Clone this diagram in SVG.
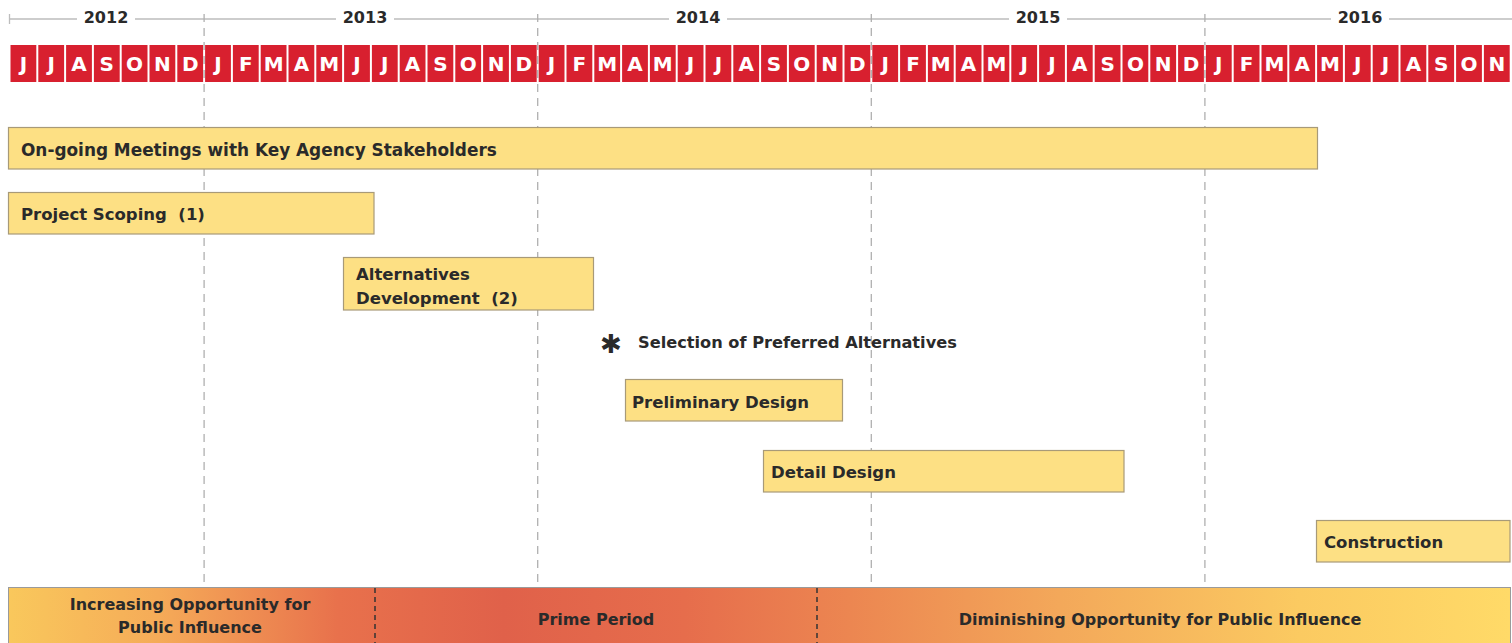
<svg xmlns="http://www.w3.org/2000/svg" width="1512" height="643" viewBox="0 0 1512 643">
<defs>
<style>
.cell{fill:#d8202f}
.m{font-family:"DejaVu Sans","Liberation Sans",sans-serif;font-weight:bold;font-size:20px;fill:#fff;text-anchor:middle}
.yr{font-family:"DejaVu Sans","Liberation Sans",sans-serif;font-weight:bold;font-size:16px;fill:#2a2a2a;text-anchor:middle}
.bar{fill:#fde084;stroke:#a89a78;stroke-width:1.2}
.t{font-family:"DejaVu Sans","Liberation Sans",sans-serif;font-weight:bold;font-size:16.5px;fill:#2a2a2a}
.tc{font-family:"DejaVu Sans","Liberation Sans",sans-serif;font-weight:bold;font-size:16px;fill:#2a2a2a;text-anchor:middle}
.vd{stroke:#b0b0b0;stroke-width:1.3;stroke-dasharray:8 6;fill:none}
.div{stroke:#333;stroke-width:1.5;stroke-dasharray:5 4;fill:none}
</style>
<linearGradient id="band" gradientUnits="userSpaceOnUse" x1="8" y1="0" x2="1510" y2="0">
<stop offset="0" stop-color="#f9c85c"/>
<stop offset="0.1" stop-color="#f5ab58"/>
<stop offset="0.22" stop-color="#e8714c"/>
<stop offset="0.33" stop-color="#e0614a"/>
<stop offset="0.45" stop-color="#e66d4c"/>
<stop offset="0.56" stop-color="#ec8651"/>
<stop offset="0.7" stop-color="#f3a85a"/>
<stop offset="0.86" stop-color="#fbca61"/>
<stop offset="1" stop-color="#ffda68"/>
</linearGradient>
</defs>
<rect x="0" y="0" width="1512" height="643" fill="#fff"/>

<g id="year-axis">
<line x1="9.5" y1="19" x2="1512" y2="19" stroke="#bdbdbd" stroke-width="1.3"/>
<line x1="9.5" y1="14" x2="9.5" y2="24" stroke="#bdbdbd" stroke-width="1.3"/>
<rect x="77" y="8" width="58" height="20" fill="#fff"/>
<rect x="336" y="8" width="58" height="20" fill="#fff"/>
<rect x="669" y="8" width="58" height="20" fill="#fff"/>
<rect x="1009" y="8" width="58" height="20" fill="#fff"/>
<rect x="1331" y="8" width="58" height="20" fill="#fff"/>
<text class="yr" x="106" y="23">2012</text>
<text class="yr" x="365" y="23">2013</text>
<text class="yr" x="698" y="23">2014</text>
<text class="yr" x="1038" y="23">2015</text>
<text class="yr" x="1360" y="23">2016</text>
</g>

<g id="year-dividers">
<line class="vd" x1="204.1" y1="14" x2="204.1" y2="600"/>
<line class="vd" x1="537.7" y1="14" x2="537.7" y2="600"/>
<line class="vd" x1="871.3" y1="14" x2="871.3" y2="600"/>
<line class="vd" x1="1204.9" y1="14" x2="1204.9" y2="600"/>
</g>

<g id="months">
<rect class="cell" x="10.5" y="45" width="25.8" height="37"/>
<rect class="cell" x="38.3" y="45" width="25.8" height="37"/>
<rect class="cell" x="66.1" y="45" width="25.8" height="37"/>
<rect class="cell" x="93.9" y="45" width="25.8" height="37"/>
<rect class="cell" x="121.7" y="45" width="25.8" height="37"/>
<rect class="cell" x="149.5" y="45" width="25.8" height="37"/>
<rect class="cell" x="177.3" y="45" width="25.8" height="37"/>
<rect class="cell" x="205.1" y="45" width="25.8" height="37"/>
<rect class="cell" x="232.9" y="45" width="25.8" height="37"/>
<rect class="cell" x="260.7" y="45" width="25.8" height="37"/>
<rect class="cell" x="288.5" y="45" width="25.8" height="37"/>
<rect class="cell" x="316.3" y="45" width="25.8" height="37"/>
<rect class="cell" x="344.1" y="45" width="25.8" height="37"/>
<rect class="cell" x="371.9" y="45" width="25.8" height="37"/>
<rect class="cell" x="399.7" y="45" width="25.8" height="37"/>
<rect class="cell" x="427.5" y="45" width="25.8" height="37"/>
<rect class="cell" x="455.3" y="45" width="25.8" height="37"/>
<rect class="cell" x="483.1" y="45" width="25.8" height="37"/>
<rect class="cell" x="510.9" y="45" width="25.8" height="37"/>
<rect class="cell" x="538.7" y="45" width="25.8" height="37"/>
<rect class="cell" x="566.5" y="45" width="25.8" height="37"/>
<rect class="cell" x="594.3" y="45" width="25.8" height="37"/>
<rect class="cell" x="622.1" y="45" width="25.8" height="37"/>
<rect class="cell" x="649.9" y="45" width="25.8" height="37"/>
<rect class="cell" x="677.7" y="45" width="25.8" height="37"/>
<rect class="cell" x="705.5" y="45" width="25.8" height="37"/>
<rect class="cell" x="733.3" y="45" width="25.8" height="37"/>
<rect class="cell" x="761.1" y="45" width="25.8" height="37"/>
<rect class="cell" x="788.9" y="45" width="25.8" height="37"/>
<rect class="cell" x="816.7" y="45" width="25.8" height="37"/>
<rect class="cell" x="844.5" y="45" width="25.8" height="37"/>
<rect class="cell" x="872.3" y="45" width="25.8" height="37"/>
<rect class="cell" x="900.1" y="45" width="25.8" height="37"/>
<rect class="cell" x="927.9" y="45" width="25.8" height="37"/>
<rect class="cell" x="955.7" y="45" width="25.8" height="37"/>
<rect class="cell" x="983.5" y="45" width="25.8" height="37"/>
<rect class="cell" x="1011.3" y="45" width="25.8" height="37"/>
<rect class="cell" x="1039.1" y="45" width="25.8" height="37"/>
<rect class="cell" x="1066.9" y="45" width="25.8" height="37"/>
<rect class="cell" x="1094.7" y="45" width="25.8" height="37"/>
<rect class="cell" x="1122.5" y="45" width="25.8" height="37"/>
<rect class="cell" x="1150.3" y="45" width="25.8" height="37"/>
<rect class="cell" x="1178.1" y="45" width="25.8" height="37"/>
<rect class="cell" x="1205.9" y="45" width="25.8" height="37"/>
<rect class="cell" x="1233.7" y="45" width="25.8" height="37"/>
<rect class="cell" x="1261.5" y="45" width="25.8" height="37"/>
<rect class="cell" x="1289.3" y="45" width="25.8" height="37"/>
<rect class="cell" x="1317.1" y="45" width="25.8" height="37"/>
<rect class="cell" x="1344.9" y="45" width="25.8" height="37"/>
<rect class="cell" x="1372.7" y="45" width="25.8" height="37"/>
<rect class="cell" x="1400.5" y="45" width="25.8" height="37"/>
<rect class="cell" x="1428.3" y="45" width="25.8" height="37"/>
<rect class="cell" x="1456.1" y="45" width="25.8" height="37"/>
<rect class="cell" x="1483.9" y="45" width="25.8" height="37"/>
<text class="m" x="23.4" y="70.5">J</text>
<text class="m" x="51.2" y="70.5">J</text>
<text class="m" x="79.0" y="70.5">A</text>
<text class="m" x="106.8" y="70.5">S</text>
<text class="m" x="134.6" y="70.5">O</text>
<text class="m" x="162.4" y="70.5">N</text>
<text class="m" x="190.2" y="70.5">D</text>
<text class="m" x="218.0" y="70.5">J</text>
<text class="m" x="245.8" y="70.5">F</text>
<text class="m" x="273.6" y="70.5">M</text>
<text class="m" x="301.4" y="70.5">A</text>
<text class="m" x="329.2" y="70.5">M</text>
<text class="m" x="357.0" y="70.5">J</text>
<text class="m" x="384.8" y="70.5">J</text>
<text class="m" x="412.6" y="70.5">A</text>
<text class="m" x="440.4" y="70.5">S</text>
<text class="m" x="468.2" y="70.5">O</text>
<text class="m" x="496.0" y="70.5">N</text>
<text class="m" x="523.8" y="70.5">D</text>
<text class="m" x="551.6" y="70.5">J</text>
<text class="m" x="579.4" y="70.5">F</text>
<text class="m" x="607.2" y="70.5">M</text>
<text class="m" x="635.0" y="70.5">A</text>
<text class="m" x="662.8" y="70.5">M</text>
<text class="m" x="690.6" y="70.5">J</text>
<text class="m" x="718.4" y="70.5">J</text>
<text class="m" x="746.2" y="70.5">A</text>
<text class="m" x="774.0" y="70.5">S</text>
<text class="m" x="801.8" y="70.5">O</text>
<text class="m" x="829.6" y="70.5">N</text>
<text class="m" x="857.4" y="70.5">D</text>
<text class="m" x="885.2" y="70.5">J</text>
<text class="m" x="913.0" y="70.5">F</text>
<text class="m" x="940.8" y="70.5">M</text>
<text class="m" x="968.6" y="70.5">A</text>
<text class="m" x="996.4" y="70.5">M</text>
<text class="m" x="1024.2" y="70.5">J</text>
<text class="m" x="1052.0" y="70.5">J</text>
<text class="m" x="1079.8" y="70.5">A</text>
<text class="m" x="1107.6" y="70.5">S</text>
<text class="m" x="1135.4" y="70.5">O</text>
<text class="m" x="1163.2" y="70.5">N</text>
<text class="m" x="1191.0" y="70.5">D</text>
<text class="m" x="1218.8" y="70.5">J</text>
<text class="m" x="1246.6" y="70.5">F</text>
<text class="m" x="1274.4" y="70.5">M</text>
<text class="m" x="1302.2" y="70.5">A</text>
<text class="m" x="1330.0" y="70.5">M</text>
<text class="m" x="1357.8" y="70.5">J</text>
<text class="m" x="1385.6" y="70.5">J</text>
<text class="m" x="1413.4" y="70.5">A</text>
<text class="m" x="1441.2" y="70.5">S</text>
<text class="m" x="1469.0" y="70.5">O</text>
<text class="m" x="1496.8" y="70.5">N</text>
</g>

<g id="connectors"></g>

<g id="meetings">
<rect class="bar" x="8.5" y="127.5" width="1309" height="41.5"/>
<text class="t" x="21" y="156" style="font-size:16.9px">On-going Meetings with Key Agency Stakeholders</text>
</g>
<g id="scoping">
<rect class="bar" x="8.5" y="192.5" width="365.5" height="41.5"/>
<text class="t" x="21" y="220">Project Scoping&#160; (1)</text>
</g>
<g id="alternatives">
<rect class="bar" x="343.5" y="257.5" width="250" height="52.5"/>
<text class="t" x="356" y="280">Alternatives</text>
<text class="t" x="356" y="304">Development&#160; (2)</text>
</g>
<g id="selection">
<text x="611" y="353" font-family="DejaVu Sans, sans-serif" font-weight="bold" font-size="26" fill="#2a2a2a" text-anchor="middle">✱</text>
<text class="t" x="638" y="348" style="font-size:16.2px">Selection of Preferred Alternatives</text>
</g>
<g id="preliminary">
<rect class="bar" x="625.5" y="379.5" width="217" height="41.5"/>
<text class="t" x="632" y="408">Preliminary Design</text>
</g>
<g id="detail">
<rect class="bar" x="763.5" y="450.5" width="360.5" height="41.5"/>
<text class="t" x="771" y="478">Detail Design</text>
</g>
<g id="construction">
<rect class="bar" x="1316.5" y="520.5" width="193.5" height="41.5"/>
<text class="t" x="1324" y="548">Construction</text>
</g>

<g id="influence-band">
<rect x="8.5" y="587.5" width="1502" height="60" fill="url(#band)" stroke="#9a9a9a" stroke-width="1"/>
<line class="div" x1="375" y1="588" x2="375" y2="643"/>
<line class="div" x1="817" y1="588" x2="817" y2="643"/>
<text class="tc" x="190" y="610">Increasing Opportunity for</text>
<text class="tc" x="190" y="633">Public Influence</text>
<text class="tc" x="596" y="625">Prime Period</text>
<text class="tc" x="1160" y="625">Diminishing Opportunity for Public Influence</text>
</g>
</svg>
